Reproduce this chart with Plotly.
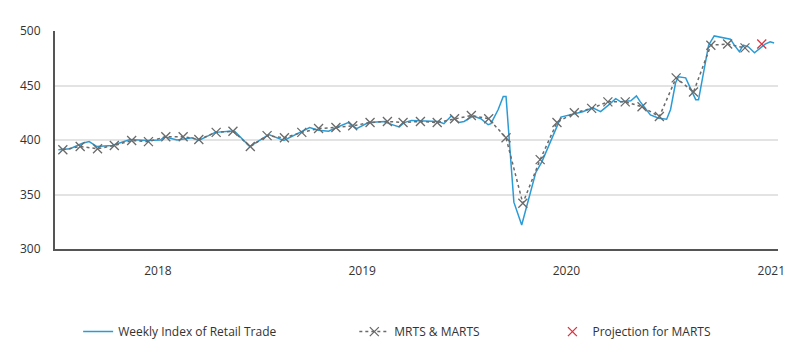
import plotly.graph_objects as go

# Weekly Index of Retail Trade
weekly_dates = [
    "2017-07-07", "2017-07-28", "2017-08-19", "2017-08-31", "2017-09-14", "2017-10-11",
    "2017-11-12", "2017-12-12", "2018-01-05", "2018-01-13", "2018-02-04", "2018-03-03",
    "2018-03-15", "2018-04-13", "2018-05-09", "2018-05-18", "2018-06-14", "2018-07-18",
    "2018-08-14", "2018-09-11", "2018-09-29", "2018-10-15", "2018-11-02", "2018-11-16",
    "2018-12-07", "2018-12-22", "2019-01-12", "2019-02-10", "2019-02-18", "2019-03-08",
    "2019-03-17", "2019-03-30", "2019-05-17", "2019-05-27", "2019-06-09", "2019-06-23",
    "2019-07-02", "2019-07-18", "2019-08-01", "2019-08-14", "2019-08-19", "2019-09-01",
    "2019-09-10", "2019-09-15", "2019-09-29", "2019-10-13", "2019-10-24", "2019-11-07",
    "2019-11-18", "2019-12-01", "2019-12-13", "2019-12-22", "2020-01-14", "2020-01-30",
    "2020-02-17", "2020-03-02", "2020-03-16", "2020-03-29", "2020-04-07", "2020-04-25",
    "2020-05-05", "2020-05-12", "2020-05-30", "2020-06-14", "2020-06-28", "2020-07-05",
    "2020-07-14", "2020-07-19", "2020-08-01", "2020-08-13", "2020-08-19", "2020-08-24",
    "2020-09-02", "2020-09-11", "2020-09-21", "2020-09-29", "2020-10-20", "2020-10-27",
    "2020-11-05", "2020-11-12", "2020-11-21", "2020-12-02", "2020-12-12", "2020-12-21",
    "2020-12-30", "2021-01-06",
]
weekly_values = [
    391, 392, 397, 398.5, 394, 395,
    400.5, 399.5, 400, 403, 400, 402,
    399.5, 407, 408, 408, 394, 405,
    399.5, 407, 411.5, 409, 408, 411.5,
    416, 410.5, 416, 417, 415, 412,
    416, 418, 417, 415, 422, 416,
    417, 422, 419.5, 414, 415, 428,
    440, 440, 343, 322, 343, 370,
    380, 395, 410, 421, 424, 426,
    429.5, 426, 432, 438, 435, 436,
    440.5, 435, 423, 420, 419, 428,
    452.5, 458, 457, 443, 437, 437,
    461.5, 487, 495.5, 494.5, 492.5, 487,
    481, 487, 485.5, 480, 484.5, 488,
    490, 489,
]

# MRTS & MARTS monthly (plotted mid-month)
mrts_dates = [
    "2017-07-15", "2017-08-15", "2017-09-15", "2017-10-15", "2017-11-15", "2017-12-15",
    "2018-01-15", "2018-02-15", "2018-03-15", "2018-04-15", "2018-05-15", "2018-06-15",
    "2018-07-15", "2018-08-15", "2018-09-15", "2018-10-15", "2018-11-15", "2018-12-15",
    "2019-01-15", "2019-02-15", "2019-03-15", "2019-04-15", "2019-05-15", "2019-06-15",
    "2019-07-15", "2019-08-15", "2019-09-15", "2019-10-15", "2019-11-15", "2019-12-15",
    "2020-01-15", "2020-02-15", "2020-03-15", "2020-04-15", "2020-05-15", "2020-06-15",
    "2020-07-15", "2020-08-15", "2020-09-15", "2020-10-15", "2020-11-15",
]
mrts_values = [
    391, 394, 392, 395, 399.5, 398.5,
    403, 403, 400.5, 407, 408, 394,
    404, 402, 407, 410.5, 411.5, 413,
    416, 417, 416, 417, 416, 419.5,
    422.5, 419.5, 402, 342, 382, 416,
    425, 429, 435, 435, 430.5, 421.5,
    457, 444, 487, 488, 484.5,
]

# Projection for MARTS
proj_dates = ["2020-12-15"]
proj_values = [488]

y_ticks = [300, 350, 400, 450, 500]
x_ticks = ["2018-01-01", "2019-01-01", "2020-01-01", "2021-01-01"]

FONT = "Open Sans, Noto Sans, sans-serif"

fig = go.Figure()
fig.add_trace(go.Scatter(
    x=weekly_dates, y=weekly_values, mode="lines",
    name="Weekly Index of Retail Trade",
    line=dict(color="#2b9bd6", width=1.5),
    legend="legend", showlegend=True,
))
fig.add_trace(go.Scatter(
    x=mrts_dates, y=mrts_values, mode="lines+markers",
    name="MRTS & MARTS",
    line=dict(color="#6a6a6a", width=1.5, dash="3px,3px"),
    marker=dict(symbol="x-thin", size=9, line=dict(color="#6a6a6a", width=1.3)),
    legend="legend2", showlegend=True,
))
fig.add_trace(go.Scatter(
    x=proj_dates, y=proj_values, mode="markers",
    name="Projection for MARTS",
    marker=dict(symbol="x-thin", size=9, line=dict(color="#d9333f", width=1.3)),
    legend="legend3", showlegend=True,
))

legend_common = dict(
    orientation="h", yanchor="middle", y=-0.379, xanchor="left",
    font=dict(family=FONT, size=12, color="#333333"),
    bgcolor="rgba(0,0,0,0)", visible=True,
)
fig.update_layout(
    width=792, height=350,
    margin=dict(l=45, r=22, t=23, b=108),
    paper_bgcolor="#ffffff", plot_bgcolor="#ffffff",
    showlegend=True,
    font=dict(family=FONT, size=12, color="#333333"),
    legend=dict(x=0.032, **legend_common),
    legend2=dict(x=0.414, **legend_common),
    legend3=dict(x=0.688, **legend_common),
    xaxis=dict(
        type="date", range=["2017-07-01", "2021-01-13"],
        tickvals=x_ticks, tickformat="%Y",
        showgrid=False, showline=True, linecolor="#555555", linewidth=2,
        ticks="", ticklabelstandoff=10,
        tickfont=dict(family=FONT, size=12, color="#333333"),
    ),
    yaxis=dict(
        range=[300, 500], tickvals=y_ticks,
        showgrid=True, gridcolor="#e3e3e3", gridwidth=2,
        showline=True, linecolor="#555555", linewidth=2,
        zeroline=False, ticks="", ticklabelstandoff=10,
        tickfont=dict(family=FONT, size=12, color="#333333"),
    ),
)

fig.write_html("out.html")
